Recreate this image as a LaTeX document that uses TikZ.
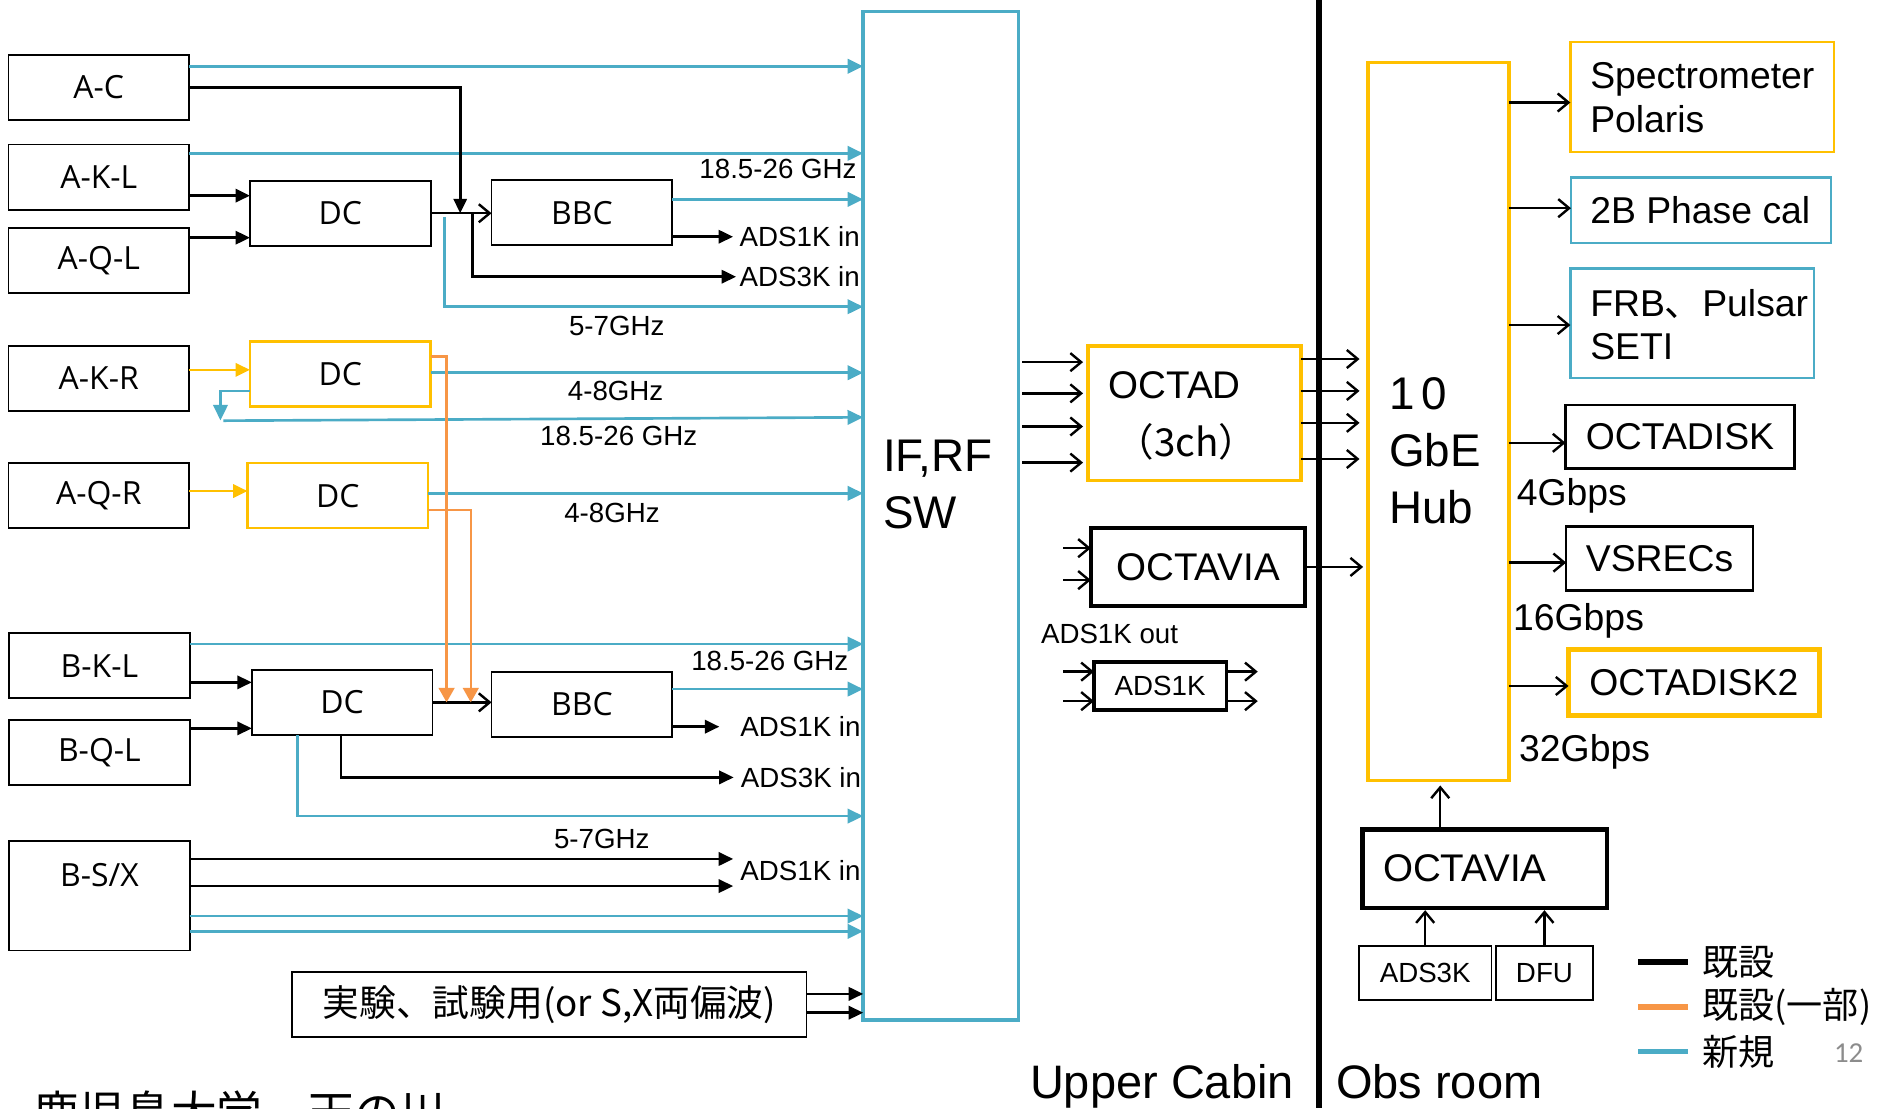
\documentclass[tikz,border=0pt]{standalone}
\usepackage{fontspec}
\setmainfont{Liberation Sans}
\newfontfamily\cjk{Noto Sans CJK JP}
\newfontfamily\boxfont{Open Sans}
\newfontfamily\numfont{Carlito}
\usetikzlibrary{arrows.meta}
\definecolor{cblue}{HTML}{4BACC6}
\definecolor{cyel}{HTML}{FFC000}
\definecolor{corg}{HTML}{F79646}
\definecolor{cgray}{HTML}{8C8C8C}
\begin{document}
\begin{tikzpicture}[x=1pt,y=-1pt,
  lbox/.style={draw=black,line width=1.5pt,inner sep=0pt,outer sep=0pt,minimum width=150pt,minimum height=54pt,font=\boxfont\fontsize{26.5}{32}\selectfont},
  ybox/.style={lbox,draw=cyel,line width=2pt},
  frm/.style={inner sep=0pt,outer sep=0pt},
  tx/.style={frm,font=\fontsize{23}{27}\selectfont},
  mtxt/.style={frm,font=\fontsize{31}{37}\selectfont},
  btxt/.style={frm,font=\fontsize{38}{46}\selectfont},
  ctxt/.style={frm,font=\fontsize{32}{38}\selectfont},
  bl/.style={draw=cblue,line width=2.2pt,-{Triangle[length=13pt,width=12pt]}},
  bk/.style={draw=black,line width=2.2pt,-{Triangle[length=12pt,width=11pt]}},
  ya/.style={draw=cyel,line width=2.2pt,-{Triangle[length=12pt,width=11pt]}},
  orr/.style={draw=corg,line width=2pt,-{Triangle[length=12pt,width=13pt]}},
  ob/.style={draw=black,line width=2pt,-{Straight Barb[length=9pt,width=15pt]}},
]
\fill[white] (0,0) rectangle (1568,920);
\useasboundingbox (0,0) rectangle (1568,920);
\clip (0,0) rectangle (1568,920);

% ---------- left inputs ----------
\node[lbox] (ac) at (82,72.5) {A-C};
\node[lbox] (akl) at (82,147) {A-K-L};
\node[lbox] (aql) at (82,216) {A-Q-L};
\node[lbox] (akr) at (82,314) {A-K-R};
\node[lbox] (aqr) at (82,411) {A-Q-R};
\node[lbox] (bkl) at (82.5,552.5) {B-K-L};
\node[lbox] (bql) at (82.5,624.5) {B-Q-L};
\node[lbox,minimum height=91pt] (bsx) at (82.5,743.5) {};
\node[frm,font=\boxfont\fontsize{26.5}{32}\selectfont,anchor=base] (bsxt) at (82.5,735.5) {B-S/X};

% ---------- DC / BBC ----------
\node[lbox] (dc1) at (282.5,177) {DC};
\node[ybox] (dc2) at (282.5,310.5) {DC};
\node[ybox] (dc3) at (280.5,411.5) {DC};
\node[lbox] (dc4) at (284,583) {DC};
\node[lbox] (bbc1) at (483,176.5) {BBC};
\node[lbox] (bbc2) at (483,584.5) {BBC};

% ---------- IF,RF SW ----------
\node[frm,draw=cblue,line width=3pt,minimum width=129pt,minimum height=837pt] (sw) at (781,428) {};
\node[btxt,anchor=base west] (swt1) at (733,391.6) {IF,RF};
\node[btxt,anchor=base west] (swt2) at (733,438.6) {SW};

% ---------- experiment ----------
\node[frm,draw,line width=1.5pt,minimum width=427pt,minimum height=54pt,font=\cjk\fontsize{30.5}{36}\selectfont] (exp) at (456,834) {実験、試験用(or S,X両偏波)};

% ---------- labels ----------
\node[tx,anchor=east] (f1) at (711,140) {18.5-26 GHz};
\node[tx] (f2) at (512,270.5) {5-7GHz};
\node[tx] (f3) at (511,324.3) {4-8GHz};
\node[tx] (f4) at (513.6,362) {18.5-26 GHz};
\node[tx] (f5) at (508,426) {4-8GHz};
\node[tx] (f6) at (639,548.4) {18.5-26 GHz};
\node[tx] (f7) at (499.5,696) {5-7GHz};
\node[tx,anchor=west] (l1) at (614,196.5) {ADS1K in};
\node[tx,anchor=west] (l2) at (614,229.7) {ADS3K in};
\node[tx,anchor=west] (l3) at (614.6,603.2) {ADS1K in};
\node[tx,anchor=west] (l4) at (615,645.3) {ADS3K in};
\node[tx,anchor=west] (l5) at (614.6,722.7) {ADS1K in};

% ---------- upper cabin ----------
\node[frm,draw=cyel,line width=3pt,minimum width=177pt,minimum height=112pt] (octad) at (991.5,343) {};
\node[ctxt,anchor=base] (octadt1) at (975,330.5) {OCTAD};
\node[frm,font=\cjk\fontsize{32}{38}\selectfont,anchor=base] (octadt2) at (985,379) {（3ch）};
\node[ctxt,draw,line width=3.5pt,minimum width=178pt,minimum height=65pt] (oct1) at (994.5,470.5) {OCTAVIA};
\node[tx,draw,line width=3pt,minimum width=110pt,minimum height=40pt] (ads1k) at (963,569.5) {ADS1K};
\node[tx] (ads1kout) at (921,526) {ADS1K out};

% ---------- obs room ----------
\node[frm,draw=cyel,line width=3pt,minimum width=117pt,minimum height=596pt] (hub) at (1194,350) {};
\node[btxt,anchor=base west] (hubt1) at (1153,339.6) {1\kern6pt 0};
\node[btxt,anchor=base west] (hubt2) at (1153,387) {GbE};
\node[btxt,anchor=base west] (hubt3) at (1153,434.6) {Hub};

\node[frm,draw=cyel,line width=2pt,minimum width=219pt,minimum height=91pt] (spec) at (1413,80.5) {};
\node[mtxt,anchor=base west] (spect1) at (1320,73.1) {Spectrometer};
\node[mtxt,anchor=base west] (spect2) at (1320,110.4) {Polaris};
\node[frm,draw=cblue,line width=2pt,minimum width=216pt,minimum height=54pt] (pcal) at (1412,174.5) {};
\node[mtxt,anchor=base west] (pcalt) at (1320,185.6) {2B Phase cal};
\node[frm,draw=cblue,line width=2pt,minimum width=202pt,minimum height=91pt] (frb) at (1404.5,268.5) {};
\node[mtxt,anchor=base west] (frbt1) at (1320,262.5) {FRB{\cjk 、}Pulsar};
\node[mtxt,anchor=base west] (frbt2) at (1320,298.1) {SETI};
\node[mtxt,draw,line width=2pt,minimum width=190pt,minimum height=53pt] (odisk) at (1394.5,362.5) {OCTADISK};
\node[mtxt,anchor=base west] (g4) at (1259,419.7) {4Gbps};
\node[mtxt,draw,line width=2pt,minimum width=155pt,minimum height=53pt] (vsr) at (1377.5,463.5) {VSRECs};
\node[mtxt,anchor=base west] (g16) at (1256,523.7) {16Gbps};
\node[mtxt,draw=cyel,line width=4pt,minimum width=208pt,minimum height=55pt] (odisk2) at (1406,566.5) {OCTADISK2};
\node[mtxt,anchor=base west] (g32) at (1261,631.7) {32Gbps};
\node[frm,draw,line width=3.5pt,minimum width=203pt,minimum height=65pt] (oct2) at (1232.5,721) {};
\node[ctxt,anchor=west] (oct2t) at (1148,721) {OCTAVIA};
\node[tx,draw,line width=1.5pt,minimum width=110pt,minimum height=45pt] (ads3k) at (1183,807.5) {ADS3K};
\node[tx,draw,line width=1.5pt,minimum width=81pt,minimum height=45pt] (dfu) at (1282,807.5) {DFU};

% ---------- divider, legend, captions ----------
\draw[line width=5pt] (1095,0) -- (1095,920);
\draw[line width=5pt] (1360,798.5) -- (1401,798.5);
\draw[corg,line width=4.5pt] (1360,836) -- (1401,836);
\draw[cblue,line width=4.5pt] (1360,873) -- (1401,873);
\node[frm,font=\cjk\fontsize{30}{36}\selectfont,anchor=west] (lg1) at (1413,798.5) {既設};
\node[frm,font=\cjk\fontsize{30}{36}\selectfont,anchor=west] (lg2) at (1413,836) {既設(一部)};
\node[frm,font=\cjk\fontsize{30}{36}\selectfont,anchor=west] (lg3) at (1413,873) {新規};
\node[frm,font=\numfont\fontsize{24}{28}\selectfont,text=cgray] (pg) at (1534.5,874) {12};
\node[frm,font=\fontsize{39}{46}\selectfont,anchor=base west] (cap1) at (855,912) {Upper Cabin};
\node[frm,font=\fontsize{39}{46}\selectfont,anchor=base west] (cap2) at (1109,912) {Obs room};
\node[frm,font=\cjk\fontsize{38}{46}\selectfont,anchor=base west] (cap3) at (28,937.5) {鹿児島大学　天の川};

% ---------- blue connectors ----------
\draw[bl] (ac.east |- 0,55) -- (sw.west |- 0,55);
\draw[bl] (akl.east |- 0,127.3) -- (sw.west |- 0,127.3);
\draw[bl] (bbc1.east |- 0,165.5) -- (sw.west |- 0,165.5);
\draw[bl] ([xshift=11.5pt,yshift=-3pt]dc1.east) |- (sw.west |- 0,254.6);
\draw[bl] (dc2.east |- 0,309.4) -- (sw.west |- 0,309.4);
\coordinate (k1) at (183,349);
\coordinate (k2) at (185.5,349.2);
\draw[bl] (dc2.west |- 0,324.6) -| (k1);
\draw[bl] (k2) -- (sw.west |- 0,346.4);
\draw[bl] (dc3.east |- 0,409.5) -- (sw.west |- 0,409.5);
\draw[bl] (bkl.east |- 0,534.6) -- (sw.west |- 0,534.6);
\draw[bl] (bbc2.east |- 0,572) -- (sw.west |- 0,572);
\draw[bl] (247,0 |- dc4.south) |- (sw.west |- 0,677.4);
\draw[bl] (bsx.east |- 0,760.4) -- (sw.west |- 0,760.4);
\draw[bl] (bsx.east |- 0,773.1) -- (sw.west |- 0,773.1);

% ---------- black connectors ----------
\draw[bk] (akl.east |- 0,162.4) -- (dc1.west |- 0,162.4);
\draw[bk] (aql.east |- 0,197.3) -- (dc1.west |- 0,197.3);
\draw[bk] (ac.east) -| (382,0 |- dc1.east);
\draw[bk] (bbc1.east |- l1.west) -- ([xshift=-5.5pt]l1.west);
\draw[bk] (392,0 |- dc1.east) |- ([xshift=-3pt]l2.west);
\draw[bk] (bkl.east |- 0,566.4) -- (dc4.west |- 0,566.4);
\draw[bk] (bql.east |- 0,604.6) -- (dc4.west |- 0,604.6);
\draw[bk] (bbc2.east |- l3.west) -- ([xshift=-17.5pt]l3.west);
\draw[bk] (283,0 |- dc4.south) |- ([xshift=-6pt]l4.west);
\coordinate (e5) at ([xshift=-6pt]l5.west);
\draw[bk] (bsx.east |- 0,713) -- (e5 |- 0,713);
\draw[bk] (bsx.east |- 0,735.5) -- (e5 |- 0,735.5);
\draw[bk] (exp.east |- 0,825) -- (sw.west |- 0,825);
\draw[bk] (exp.east |- 0,840.6) -- (sw.west |- 0,840.6);

% ---------- yellow connectors ----------
\draw[ya] (akr.east |- 0,307) -- (dc2.west |- 0,307);
\draw[ya] (aqr.east |- 0,407.6) -- (dc3.west |- 0,407.6);

% ---------- open-arrow connectors ----------
\draw[ob] (dc1.east) -- (bbc1.west |- dc1.east);
\draw[ob] (dc4.east) -- (bbc2.west |- dc4.east);
\foreach \y in {300.6,326.5,354,384} \draw[ob,shorten <=3pt,shorten >=4pt] (sw.east |- 0,\y) -- (octad.west |- 0,\y);
\foreach \y in {298,324.5,351,381} \draw[ob,shorten >=7pt] (octad.east |- 0,\y) -- (hub.west |- 0,\y);
\foreach \y in {455,481.5} \draw[ob,shorten <=37pt] (sw.east |- 0,\y) -- (oct1.west |- 0,\y);
\draw[ob,shorten >=4pt] (oct1.east |- 0,470.6) -- (hub.west |- 0,470.6);
\foreach \y in {557.5,582} {
  \draw[ob,shorten <=37pt] (sw.east |- 0,\y) -- (ads1k.west |- 0,\y);
  \draw[ob] (ads1k.east |- 0,\y) -- ++(26,0);
}
\draw[ob] (hub.east |- 0,85.1) -- (spec.west |- 0,85.1);
\draw[ob] (hub.east |- 0,172.8) -- (pcal.west |- 0,172.8);
\draw[ob] (hub.east |- 0,269.8) -- (frb.west |- 0,269.8);
\draw[ob] (hub.east |- 0,367.6) -- (odisk.west |- 0,367.6);
\draw[ob] (hub.east |- 0,467) -- (vsr.west |- 0,467);
\draw[ob] (hub.east |- 0,569.4) -- (odisk2.west |- 0,569.4);
\draw[ob,shorten >=4pt] (1195.5,0 |- oct2.north) -- (1195.5,0 |- hub.south);
\draw[ob,shorten >=2pt] (ads3k.north) -- (ads3k.north |- oct2.south);
\draw[ob,shorten >=2pt] (dfu.north) -- (dfu.north |- oct2.south);

% ---------- orange connectors ----------
\draw[orr] (dc2.east |- 0,296) -| (370.7,0 |- dc4.east);
\draw[orr] (dc3.east |- 0,423.4) -| (390.8,0 |- dc4.east);
\end{tikzpicture}
\end{document}
